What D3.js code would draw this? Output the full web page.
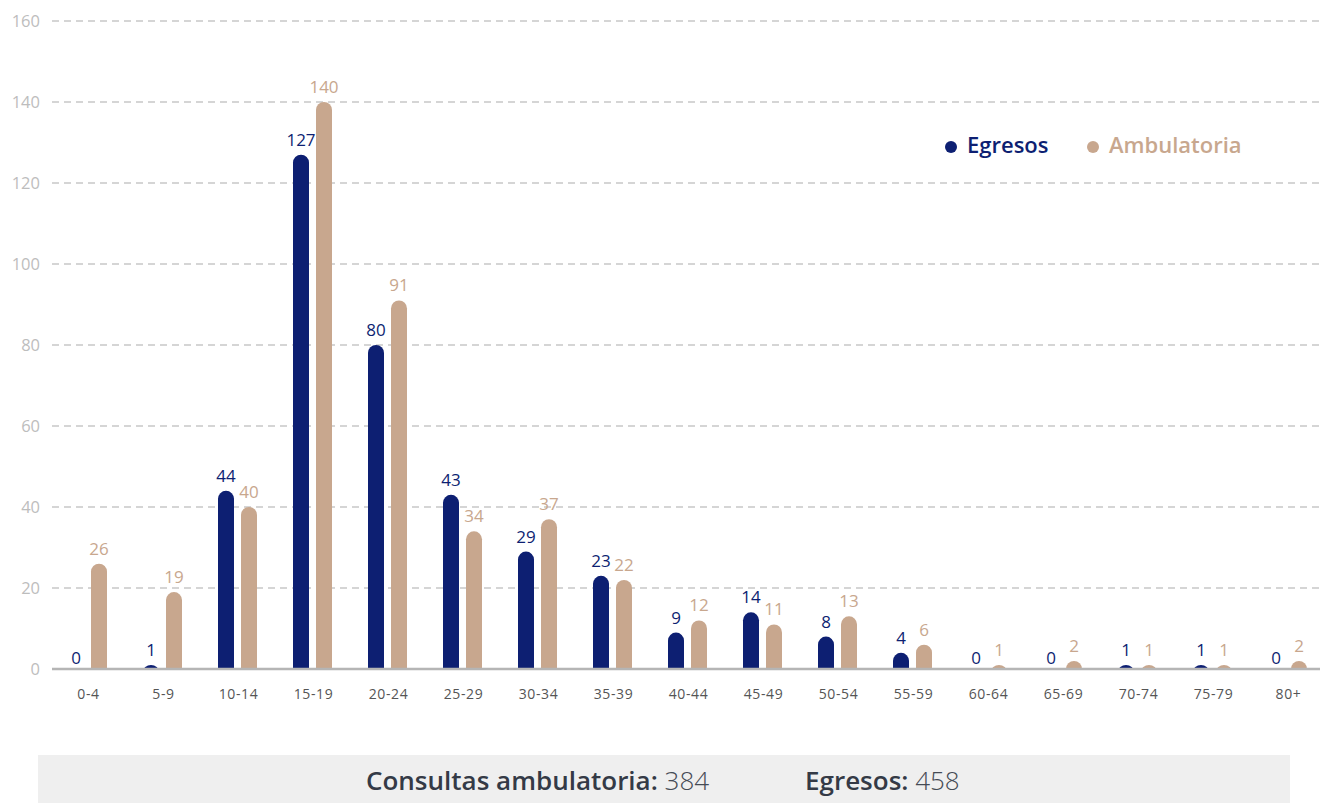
<!DOCTYPE html>
<html>
<head>
<meta charset="utf-8">
<script src="https://cdn.jsdelivr.net/npm/d3@7"></script>
<style>
  body { margin: 0; background: #fff; }
  svg { display: block; font-family: "Open Sans", sans-serif; }
</style>
</head>
<body>
<svg id="chart" width="1320" height="803"></svg>
<script>
// age groups and the two series
var grupos = ["0-4","5-9","10-14","15-19","20-24","25-29","30-34","35-39","40-44","45-49","50-54","55-59","60-64","65-69","70-74","75-79","80+"];
var egresos = [0, 1, 44, 127, 80, 43, 29, 23, 9, 14, 8, 4, 0, 0, 1, 1, 0];
var ambulatoria = [26, 19, 40, 140, 91, 34, 37, 22, 12, 11, 13, 6, 1, 2, 1, 1, 2];
var yTicks = [0, 20, 40, 60, 80, 100, 120, 140, 160];
var series = [
  { name: "Egresos", values: egresos, color: "#0d1f72", offset: -12.5 },
  { name: "Ambulatoria", values: ambulatoria, color: "#c8a78e", offset: 10.5 }
];
var totales = [
  { label: "Consultas ambulatoria:", value: 384 },
  { label: "Egresos:", value: 458 }
];

var svg = d3.select("#chart");

var x = d3.scaleBand()
  .domain(grupos)
  .range([51, 1326]);

var y = d3.scaleLinear()
  .domain([0, 160])
  .range([669, 21]);

var barW = 16;

// grid lines
svg.append("g")
  .selectAll("line")
  .data(yTicks.filter(d => d > 0))
  .enter().append("line")
  .attr("x1", 52).attr("x2", 1320)
  .attr("y1", d => y(d)).attr("y2", d => y(d))
  .style("stroke", "#c8c8c8")
  .style("stroke-width", 1.5)
  .style("stroke-dasharray", "7,5");

// y labels
svg.append("g")
  .selectAll("text")
  .data(yTicks)
  .enter().append("text")
  .attr("x", 40)
  .attr("y", d => y(d) + 6)
  .attr("text-anchor", "end")
  .style("font-size", "16.5px")
  .style("fill", "#bdbdbd")
  .text(d => d);

// clip so the rounded bars end at baseline
svg.append("clipPath").attr("id", "plotclip")
  .append("rect")
  .attr("x", 0).attr("y", 0)
  .attr("width", 1320).attr("height", y(0));

var bars = svg.append("g").attr("clip-path", "url(#plotclip)");

series.forEach(function(s) {
  var pts = grupos.map((g, i) => ({ g: g, v: s.values[i] }));

  bars.selectAll(null)
    .data(pts.filter(d => d.v > 0))
    .enter().append("rect")
    .attr("x", d => x(d.g) + x.bandwidth() / 2 + s.offset - barW / 2)
    .attr("y", d => y(d.v))
    .attr("width", barW)
    .attr("height", d => y(0) - y(d.v) + 10)
    .attr("rx", barW / 2)
    .style("fill", s.color);

  svg.append("g")
    .selectAll("text")
    .data(pts)
    .enter().append("text")
    .attr("x", d => x(d.g) + x.bandwidth() / 2 + s.offset)
    .attr("y", d => d.v > 0 ? y(d.v) - 9 : y(0) - 5)
    .attr("text-anchor", "middle")
    .style("font-size", "17px")
    .style("font-weight", 500)
    .style("fill", s.color)
    .text(d => d.v);
});

// baseline
svg.append("line")
  .attr("x1", 52).attr("x2", 1320)
  .attr("y1", y(0)).attr("y2", y(0))
  .style("stroke", "#b5b5b5")
  .style("stroke-width", 2.5);

// x labels
svg.append("g")
  .selectAll("text")
  .data(grupos)
  .enter().append("text")
  .attr("x", d => x(d) + x.bandwidth() / 2)
  .attr("y", 699)
  .attr("text-anchor", "middle")
  .style("font-size", "14px")
  .style("letter-spacing", "0.6px")
  .style("fill", "#555")
  .text(d => d);

// legend
var legend = svg.append("g");
var legX = [951, 1093];
series.forEach(function(s, i) {
  legend.append("circle")
    .attr("cx", legX[i]).attr("cy", 147).attr("r", 6)
    .style("fill", s.color);
  legend.append("text")
    .attr("x", legX[i] + 16).attr("y", 153)
    .style("font-size", "22px")
    .style("font-weight", 600)
    .style("fill", s.color)
    .text(s.name);
});

// footer box
svg.append("rect")
  .attr("x", 38).attr("y", 755)
  .attr("width", 1252).attr("height", 48)
  .style("fill", "#efefef");

var footX = [366, 805];
totales.forEach(function(t, i) {
  var txt = svg.append("text")
    .attr("x", footX[i]).attr("y", 790)
    .style("font-size", "26px")
    .style("fill", "#343a46");
  txt.append("tspan").style("font-weight", 600).text(t.label);
  txt.append("tspan").style("font-weight", 300).style("fill", "#454b55").text(" " + t.value);
});
</script>
</body>
</html>
